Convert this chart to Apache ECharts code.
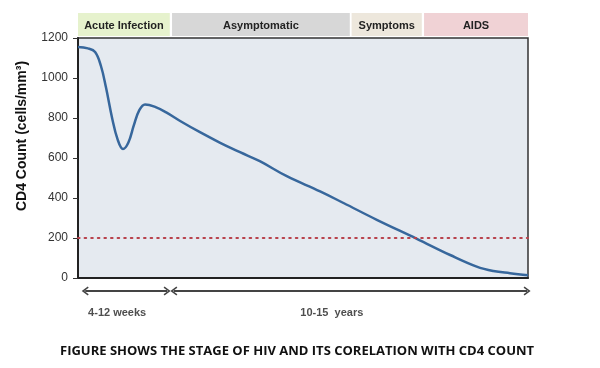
<!DOCTYPE html>
<html>
<head>
<meta charset="utf-8">
<script src="https://cdn.jsdelivr.net/npm/echarts@6/dist/echarts.min.js"></script>
<style>html,body{margin:0;padding:0;background:#fff}#c{width:600px;height:368px}</style>
</head>
<body>
<div id="c"></div>
<script>
// ---- data ----
// time axis in relative units (0 = infection, 100 = end of chart)
const timePoints = [0, 2.2, 3.8, 5.1, 6.2, 7.6, 8.8, 10.0, 11.2, 12.4, 13.6, 14.9, 17.0, 19.6, 22.7, 27.1, 31.6, 36.0, 40.4, 46.4, 53.8, 59.0, 66.4, 75.3, 82.7, 88.6, 92.3, 96.0, 100];
const cd4Values  = [1155, 1148, 1130, 1060, 955, 798, 693, 645, 678, 763, 838, 868, 857, 828, 785, 729, 676, 629, 584, 509, 433, 375, 291, 196, 115, 57, 35, 24, 14];
const thresholdValue = 200;
const yTicks = [0, 200, 400, 600, 800, 1000, 1200];

const stageNames = ['Acute Infection', 'Asymptomatic', 'Symptoms', 'AIDS'];
const stageStart = [0, 20.9, 60.8, 76.9];
const stageEnd   = [20.4, 60.4, 76.4, 100];

const spanLabels = ['4-12 weeks', '10-15  years'];
const spanStart  = [1.6, 21.3];
const spanEnd    = [19.8, 99.8];
const spanLabelX = [8.7, 56.4];

const titleText = 'FIGURE SHOWS THE STAGE OF HIV AND ITS CORELATION WITH CD4 COUNT';
const yName = 'CD4 Count (cells/mm\u00B3)';

// ---- styles ----
const stageColors = ['#e6f2cd', '#d7d7d7', '#ede7dc', '#f0d2d5'];
const FONT = "'Liberation Sans', Arial, sans-serif";

const chart = echarts.init(document.getElementById('c'), null, {renderer: 'canvas'});

const gridL = 78, gridR = 72;

const option = {
  animation: false,
  backgroundColor: '#ffffff',
  title: {
    text: titleText,
    left: 55, top: 340,
    textStyle: {fontFamily: "'Open Sans', sans-serif", fontWeight: 'bold', fontSize: 13, color: '#111'}
  },
  graphic: [{
    type: 'text',
    x: 22, y: 136, rotation: Math.PI / 2,
    style: {text: yName, align: 'center', verticalAlign: 'middle', font: 'bold 14px ' + FONT, fill: '#111'}
  }],
  grid: [
    {left: gridL, right: gridR, top: 38, bottom: 90, show: true, backgroundColor: '#e5eaf0', borderColor: '#333', borderWidth: 1.5},
    {left: gridL, right: gridR, top: 13, height: 23},
    {left: gridL, right: gridR, top: 280, height: 40}
  ],
  xAxis: [
    {gridIndex: 0, type: 'value', min: 0, max: 100,
     axisLine: {show: true, onZero: false, lineStyle: {color: '#222', width: 2}},
     axisTick: {show: false}, axisLabel: {show: false}, splitLine: {show: false}},
    {gridIndex: 1, type: 'value', min: 0, max: 100, show: false},
    {gridIndex: 2, type: 'value', min: 0, max: 100, show: false}
  ],
  yAxis: [
    {gridIndex: 0, type: 'value', min: yTicks[0], max: yTicks[yTicks.length - 1], interval: yTicks[1] - yTicks[0],
     axisLine: {show: true, lineStyle: {color: '#222', width: 2}},
     axisTick: {show: true, length: 5, lineStyle: {color: '#333', width: 1}},
     axisLabel: {fontFamily: FONT, fontSize: 12, color: '#333', margin: 10, formatter: v => String(v)},
     splitLine: {show: false}},
    {gridIndex: 1, type: 'value', min: 0, max: 1, show: false},
    {gridIndex: 2, type: 'value', min: 0, max: 1, show: false}
  ],
  series: [
    {
      type: 'line', xAxisIndex: 0, yAxisIndex: 0,
      data: timePoints.map((t, i) => [t, cd4Values[i]]),
      smooth: 0.4, showSymbol: false, symbol: 'none',
      lineStyle: {color: '#37679c', width: 2.5},
      markLine: {
        silent: true, symbol: 'none', label: {show: false},
        lineStyle: {color: '#b8434d', type: [1.6, 5], width: 2, cap: 'round'},
        data: [{yAxis: thresholdValue}]
      },
      z: 3
    },
    {
      type: 'custom', xAxisIndex: 1, yAxisIndex: 1,
      data: stageNames.map((n, i) => [stageStart[i], stageEnd[i], i]),
      renderItem: function (params, api) {
        const p1 = api.coord([api.value(0), 1]);
        const p2 = api.coord([api.value(1), 0]);
        const idx = api.value(2);
        return {
          type: 'group',
          children: [
            {type: 'rect', shape: {x: p1[0], y: p1[1], width: p2[0] - p1[0], height: p2[1] - p1[1]},
             style: {fill: stageColors[idx]}},
            {type: 'text', style: {text: stageNames[idx], x: (p1[0] + p2[0]) / 2, y: (p1[1] + p2[1]) / 2 + 1,
             align: 'center', verticalAlign: 'middle', font: 'bold 11px ' + FONT, fill: '#222'}}
          ]
        };
      }
    },
    {
      type: 'line', xAxisIndex: 2, yAxisIndex: 2, data: [], showSymbol: false,
      markLine: {
        silent: true,
        symbol: ['path://M5,0 L10,8 L8.6,9.2 L5,3.4 L1.4,9.2 L0,8 Z', 'path://M5,0 L10,8 L8.6,9.2 L5,3.4 L1.4,9.2 L0,8 Z'],
        symbolSize: [9, 7],
        label: {show: false},
        lineStyle: {color: '#444', type: 'solid', width: 2},
        data: spanLabels.map((n, i) => [{coord: [spanStart[i], 0.725]}, {coord: [spanEnd[i], 0.725]}])
      }
    },
    {
      type: 'scatter', xAxisIndex: 2, yAxisIndex: 2, symbolSize: 0,
      data: spanLabels.map((n, i) => ({value: [spanLabelX[i], 0.175], name: n})),
      label: {show: true, position: 'inside', formatter: p => p.name, fontFamily: FONT, fontWeight: 'bold', fontSize: 11, color: '#222'}
    }
  ]
};
chart.setOption(option);
</script>
</body>
</html>
